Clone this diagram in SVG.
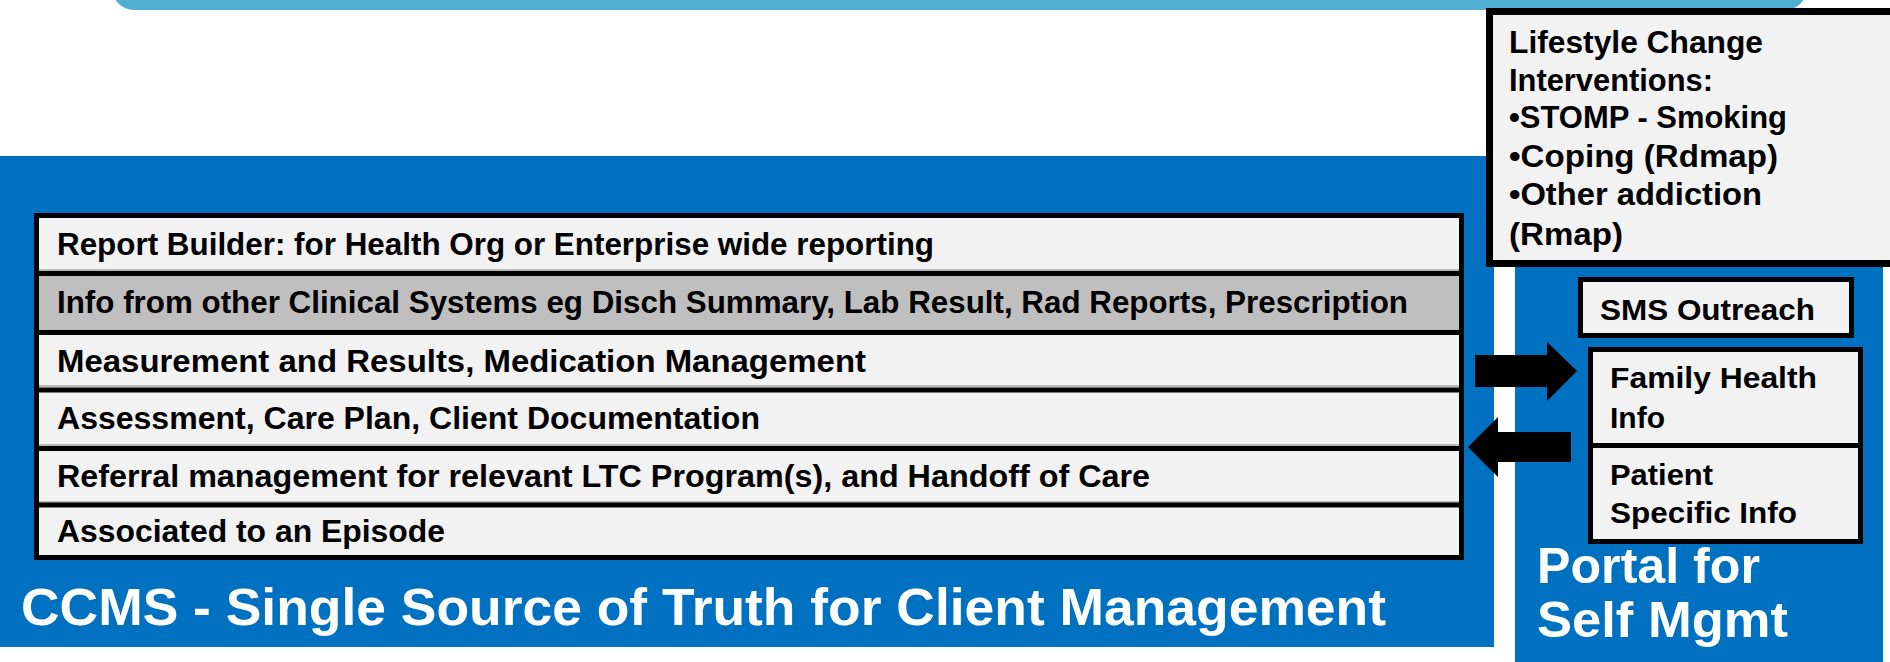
<svg xmlns="http://www.w3.org/2000/svg" width="1890" height="662" viewBox="0 0 1890 662">
<style>
.t{font-family:"Liberation Sans",Arial,sans-serif;font-weight:bold;fill:#000}
.w{font-family:"Liberation Sans",Arial,sans-serif;font-weight:bold;fill:#fff}
.row{fill:#F2F2F2}
.box{fill:#F2F2F2;stroke:#000;stroke-width:5}
.div{stroke:#000;stroke-width:5}
.hl{stroke:#A6A6A6;stroke-width:1.5}
.panel{fill:#0070C0}
.arrow{fill:#000}
</style>
<rect x="0" y="0" width="1890" height="662" fill="#fff"/>
<g id="top-bar"><rect x="112" y="-40" width="1695" height="50" rx="22" fill="#4FAFD3"/></g>

<g id="ccms-panel">
<rect class="panel" x="0" y="156" width="1494" height="491"/>
<text class="w" x="21" y="625" font-size="52" textLength="1365" lengthAdjust="spacingAndGlyphs">CCMS - Single Source of Truth for Client Management</text>
</g>

<g id="portal-panel">
<rect class="panel" x="1515" y="156" width="368" height="506"/>
<text class="w" x="1537" y="583" font-size="50" textLength="223" lengthAdjust="spacingAndGlyphs">Portal for</text>
<text class="w" x="1537" y="637" font-size="50" textLength="251" lengthAdjust="spacingAndGlyphs">Self Mgmt</text>
</g>

<g id="rows">
<rect x="36.5" y="215.5" width="1425" height="342" fill="#F2F2F2" stroke="#000" stroke-width="5"/>
<g id="row-report">
<rect class="row" x="39" y="218" width="1420" height="53"/>
<text class="t" x="57" y="255" font-size="31" textLength="877" lengthAdjust="spacingAndGlyphs">Report Builder: for Health Org or Enterprise wide reporting</text>
</g>
<g id="row-info">
<rect x="39" y="276" width="1420" height="54" fill="#BFBFBF"/>
<text class="t" x="57" y="313" font-size="31" textLength="1351" lengthAdjust="spacingAndGlyphs">Info from other Clinical Systems eg Disch Summary, Lab Result, Rad Reports, Prescription</text>
</g>
<g id="row-measure">
<text class="t" x="57" y="372" font-size="31" textLength="809" lengthAdjust="spacingAndGlyphs">Measurement and Results, Medication Management</text>
</g>
<g id="row-assess">
<text class="t" x="57" y="429" font-size="31" textLength="703" lengthAdjust="spacingAndGlyphs">Assessment, Care Plan, Client Documentation</text>
</g>
<g id="row-referral">
<text class="t" x="57" y="487" font-size="31" textLength="1093" lengthAdjust="spacingAndGlyphs">Referral management for relevant LTC Program(s), and Handoff of Care</text>
</g>
<g id="row-episode">
<text class="t" x="57" y="542" font-size="31" textLength="388" lengthAdjust="spacingAndGlyphs">Associated to an Episode</text>
</g>
<line class="hl" x1="39" y1="270" x2="1459" y2="270"/>
<line class="hl" x1="39" y1="386" x2="1459" y2="386"/>
<line class="hl" x1="39" y1="445" x2="1459" y2="445"/>
<line class="hl" x1="39" y1="502" x2="1459" y2="502"/>
<line class="div" x1="36" y1="273.5" x2="1462" y2="273.5"/>
<line class="div" x1="36" y1="332.5" x2="1462" y2="332.5"/>
<line class="div" x1="36" y1="390" x2="1462" y2="390"/>
<line class="div" x1="36" y1="448.5" x2="1462" y2="448.5"/>
<line class="div" x1="36" y1="505" x2="1462" y2="505"/>
</g>

<g id="lifestyle">
<rect x="1489.5" y="11.5" width="420" height="252" fill="#F2F2F2" stroke="#000" stroke-width="7"/>
<text class="t" x="1509" y="53" font-size="31" textLength="254" lengthAdjust="spacingAndGlyphs">Lifestyle Change</text>
<text class="t" x="1509" y="91" font-size="31" textLength="204" lengthAdjust="spacingAndGlyphs">Interventions:</text>
<text class="t" x="1509" y="128" font-size="31" textLength="278" lengthAdjust="spacingAndGlyphs">•STOMP - Smoking</text>
<text class="t" x="1509" y="167" font-size="31" textLength="269" lengthAdjust="spacingAndGlyphs">•Coping (Rdmap)</text>
<text class="t" x="1509" y="205" font-size="31" textLength="253" lengthAdjust="spacingAndGlyphs">•Other addiction</text>
<text class="t" x="1509" y="245" font-size="31" textLength="114" lengthAdjust="spacingAndGlyphs">(Rmap)</text>
</g>

<g id="sms">
<rect class="box" x="1580.5" y="279.5" width="271" height="56"/>
<text class="t" x="1600" y="320" font-size="30" textLength="215" lengthAdjust="spacingAndGlyphs">SMS Outreach</text>
</g>

<g id="family-patient">
<rect class="box" x="1590.5" y="349.5" width="270" height="192"/>
<line class="div" x1="1590" y1="445.5" x2="1861" y2="445.5"/>
<g id="family">
<text class="t" x="1610" y="388" font-size="30" textLength="207" lengthAdjust="spacingAndGlyphs">Family Health</text>
<text class="t" x="1610" y="428" font-size="30" textLength="55" lengthAdjust="spacingAndGlyphs">Info</text>
</g>
<g id="patient">
<text class="t" x="1610" y="485" font-size="30" textLength="103" lengthAdjust="spacingAndGlyphs">Patient</text>
<text class="t" x="1610" y="523" font-size="30" textLength="187" lengthAdjust="spacingAndGlyphs">Specific Info</text>
</g>
</g>

<g id="connectors">
<polygon class="arrow" points="1475,355 1547,355 1547,342 1577,371 1547,401 1547,387 1475,387"/>
<polygon class="arrow" points="1571,432 1498,432 1498,417 1468,447 1498,477 1498,462 1571,462"/>
</g>
</svg>
